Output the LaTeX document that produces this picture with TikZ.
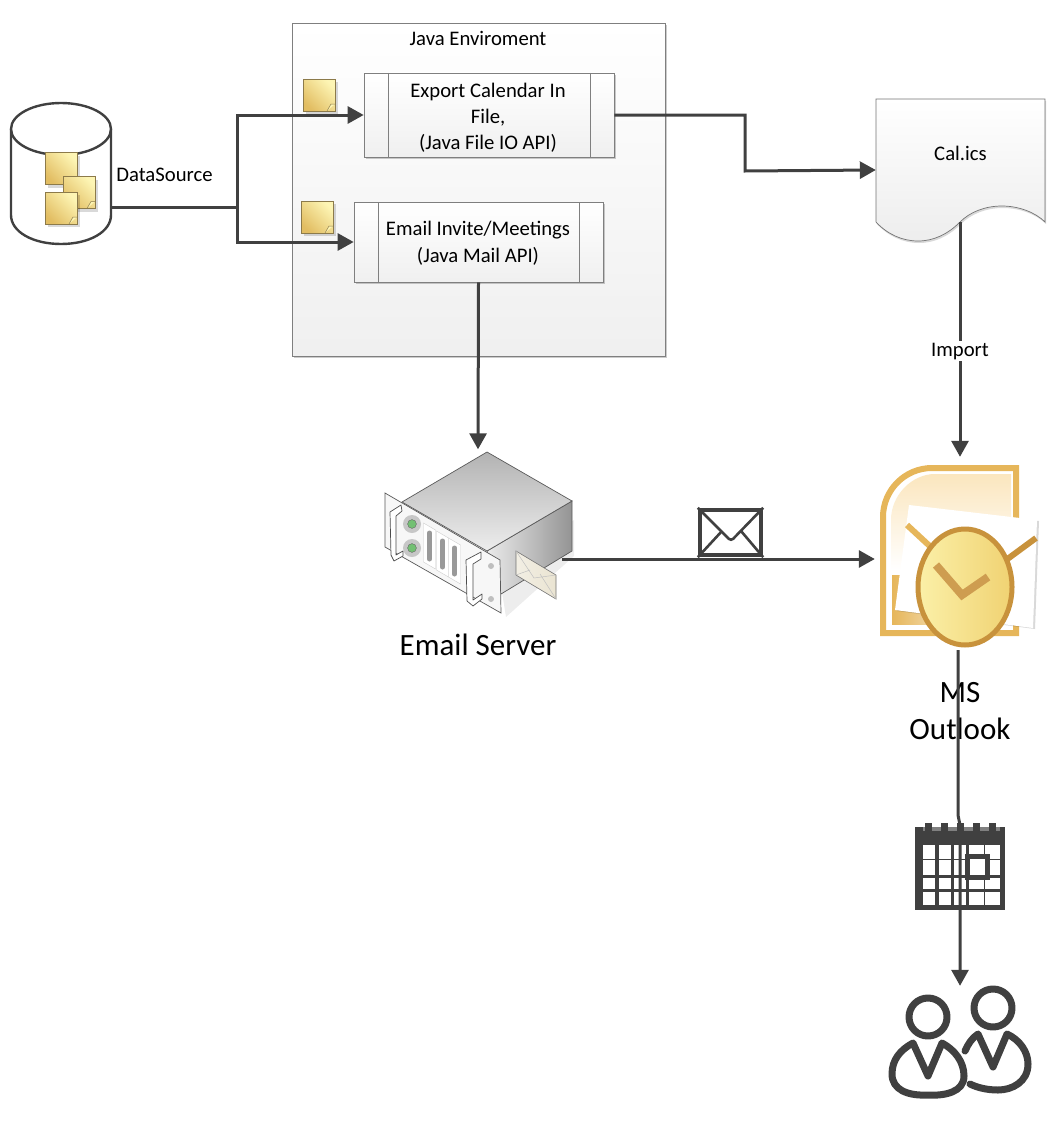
\documentclass[tikz,border=0pt]{standalone}
\usepackage{fontspec}
\setmainfont{Carlito}
\usetikzlibrary{arrows.meta,positioning,shadows,calc}

\definecolor{inkdark}{HTML}{404040}
\definecolor{paneledge}{HTML}{7F7F7F}
\definecolor{noteedge}{HTML}{8C7A4A}
\definecolor{noteone}{HTML}{FDF5B4}
\definecolor{notetwo}{HTML}{E2BD62}
\definecolor{orangeedge}{HTML}{E6B65A}
\definecolor{orangepale}{HTML}{FBE6BE}
\definecolor{clockedge}{HTML}{C8923C}
\definecolor{clockone}{HTML}{FBF0A8}
\definecolor{clocktwo}{HTML}{F0D272}
\definecolor{envbeige}{HTML}{EAE4D2}

\begin{document}
\begin{tikzpicture}[
    x = 1pt, y = -1pt, % picture is laid out in reference pixels
    > = {Triangle[length=16pt,width=17pt]}, % arrow head style
    flow/.style = {draw = inkdark, line width = 3pt},
    panel/.style = {draw = paneledge, line width = .7pt, top color = white, bottom color = black!6,
        drop shadow = {shadow xshift = 2pt, shadow yshift = -2pt, opacity = .2, fill = black}},
    sticky/.style = {draw = noteedge, line width = .6pt, minimum size = 32pt, inner sep = 0pt,
        left color = noteone, right color = notetwo, shading angle = -45,
        drop shadow = {shadow xshift = 3pt, shadow yshift = -3pt, opacity = .15, fill = black},
        path picture = {
            \draw[noteedge, fill = noteone, line width = .5pt]
                ($(path picture bounding box.south east)+(-8pt,0pt)$)
                -- ++(4pt,7pt) -- ++(4pt,0pt);
        }},
    label/.style = {font = \fontsize{20.7}{26}\selectfont, align = center, inner sep = 1pt},
    biglabel/.style = {font = \fontsize{31}{37}\selectfont, align = center, inner sep = 1pt},
    steel/.style = {draw = black!65, line width = .7pt},
    handle/.style = {draw = black!70, fill = white, line width = .7pt, line join = round},
    figure/.style = {draw = inkdark, line width = 7pt, line join = round, line cap = round}
    ]

    % java environment and its two tasks
    \node[panel, minimum width = 373pt, minimum height = 333pt] (javaenv) at (478.5,189.5) {};
    \node[label] (javatitle) at (478,38) {Java Enviroment};
    \node[panel, minimum width = 250pt, minimum height = 84pt] (export) at (489,115) {};
    \node[panel, minimum width = 249pt, minimum height = 80pt] (email) at (478.5,242) {};
    \draw[paneledge] (388,73) -- (388,157) (590,73) -- (590,157);
    \draw[paneledge] (378,202) -- (378,282) (579,202) -- (579,282);
    \node[label] (exporttext) at (488,118) {Export Calendar In\\File,\\(Java File IO API)};
    \node[label, font = \fontsize{20.7}{27}\selectfont] (emailtext) at (478,243) {Email Invite/Meetings\\(Java Mail API)};
    \node[sticky] (noteexport) at (319,95) {};
    \node[sticky] (noteemail) at (317,217) {};

    % data source
    \node[minimum width = 100pt, minimum height = 142pt, inner sep = 0pt] (database) at (61,174) {};
    \draw[inkdark, line width = 2.4pt, fill = white]
        (11,129) -- (11,215) .. controls (11,232) and (33,244) .. (61,244)
        .. controls (89,244) and (111,232) .. (111,215) -- (111,129);
    \draw[inkdark, line width = 2.4pt, fill = white] (61,129) ellipse (50pt and 26pt);
    \node[sticky] (notea) at (61,168.5) {};
    \node[sticky] (noteb) at (79,192.5) {};
    \node[sticky] (notec) at (61,208) {};
    \node[label] (dstext) at (164.5,174.5) {DataSource};
    \coordinate (dsout) at (112,207);
    \coordinate (dsjoin) at (237,207);

    % calendar file
    \node[minimum width = 169pt, minimum height = 142pt, inner sep = 0pt] (calfile) at (960.5,170) {};
    \path[draw = black!55, line width = .7pt, top color = white, bottom color = black!7,
        drop shadow = {shadow xshift = 1pt, shadow yshift = -2pt, opacity = .15, fill = black}]
        (876,99) -- (1045,99) -- (1045,222)
        .. controls (1035,212) and (1018,206) .. (1002,206)
        .. controls (985,206) and (970,212) .. (960,222)
        .. controls (948,234) and (934,241) .. (918,241)
        .. controls (902,241) and (887,234) .. (876,222) -- cycle;
    \node[label] (caltext) at (960.5,153) {Cal.ics};
    \coordinate (calout) at (960,222);

    % mail server
    \node[minimum width = 190pt, minimum height = 165pt, inner sep = 0pt] (server) at (478,532) {};
    \path[fill = black!7] (500,580) -- (506,617) -- (574,556) -- (574,520) -- cycle;
    \draw[steel, left color = black!8, right color = black!42]
        (487,551) -- (572,501) -- (572,551) -- (501,594) -- cycle;
    \draw[steel, top color = black!30, bottom color = black!7]
        (487,452) -- (572,501) -- (487,551) -- (402,502) -- cycle;
    \draw[steel, fill = black!3] (385,493) -- (500,560) -- (501,613) -- (385,547) -- cycle;
    \foreach \ledy in {524,548} {
        \fill[black!22] (412,\ledy) circle (9pt);
        \draw[black!60, fill = green!55!black!55] (412,\ledy) circle (4.4pt);
    }
    \foreach \slotx/\sloty in {429.5/546, 442.5/554, 454.5/561} {
        \draw[black!20, fill = white] (\slotx-6,\sloty-23) -- (\slotx+6,\sloty-16) -- (\slotx+6,\sloty+23) -- (\slotx-6,\sloty+16) -- cycle;
        \draw[black!40, line width = 5pt, line cap = round] (\slotx,\sloty-13) -- (\slotx,\sloty+13);
    }
    \draw[handle] (401,505) -- (390,512) -- (391,555) -- (394,561) -- (403,556) -- (403,551) -- (396,555) -- (396,516) -- (402,511) -- cycle;
    \draw[handle] (481,552) -- (466,560) -- (467,601) -- (473,606) -- (482,599) -- (482,594) -- (473,600) -- (473,564) -- (481,559) -- cycle;
    \fill[black!25] (491,566) circle (3pt) (491,599) circle (3pt);

    % envelope leaving the server
    \coordinate (serverout) at (562,559);
    \draw[black!55, line width = .6pt, left color = envbeige!60!white, right color = envbeige]
        (516,551) -- (556,575) -- (556,599) -- (516,575) -- cycle;
    \draw[black!25, line width = .5pt] (516,551) -- (534,578) -- (556,575) (516,575) -- (530,570) (556,599) -- (540,574);
    \node[biglabel] (servertext) at (478,645) {Email Server};

    % envelope on the mail link
    \node[draw = inkdark, line width = 4.4pt, minimum width = 61pt, minimum height = 45pt, inner sep = 0pt] (mailicon) at (730.5,532.5) {};
    \draw[inkdark, line width = 2.6pt, rounded corners = 3pt] (mailicon.north west) -- (731,541) -- (mailicon.north east);
    \draw[inkdark, line width = 2.6pt] (mailicon.south west) -- (722,531) (mailicon.south east) -- (741,531);

    % outlook
    \node[minimum width = 170pt, minimum height = 193pt, inner sep = 0pt] (outlook) at (960,553.5) {};
    \path[draw = orangeedge, line width = 6pt, fill = white]
        (883,633) -- (883,517) .. controls (883,490) and (905,468) .. (932,468) -- (1016,468) -- (1016,633) -- cycle;
    \path[top color = orangepale, bottom color = white]
        (891,570) -- (891,520) .. controls (891,495) and (912,474) .. (935,474) -- (1011,474) -- (1011,570) -- cycle;
    \fill[left color = orangeedge, right color = orangeedge!60!white] (892,575) rectangle (930,624);
    \fill[white, drop shadow = {shadow xshift = 2pt, shadow yshift = -1pt, opacity = .15, fill = black}]
        (909,505) -- (1037,520) -- (1033,628) -- (895,610) -- cycle;
    \draw[orangeedge, line width = 6pt] (907,525) -- (934,550);
    \draw[clockedge, line width = 6pt] (1036,538) -- (1002,563);
    \draw[clockedge, line width = 5pt, left color = clockone, right color = clocktwo]
        (965,587) ellipse (47pt and 58pt);
    \draw[clockedge!90!white, line width = 8pt] (936,565) -- (962,595) -- (988,577);
    \node[biglabel] (outlooktext) at (960,711) {MS\\Outlook};
    \coordinate (outlookbend) at (958,815);

    % calendar icon
    \node[minimum width = 90pt, minimum height = 83pt, inner sep = 0pt, fill = inkdark] (calicon) at (960,868.5) {};
    \fill[black!50] (923,827) rectangle (1000,831);
    \foreach \tabx in {928.5,944.5,960.5,976.5,992.5} {
        \fill[inkdark] (\tabx-3.5,823) rectangle (\tabx+3.5,838);
    }
    \foreach \cellx/\cellw in {923/12,938.5/12.5,954/12,968.5/15,985/15} {
        \foreach \celly/\cellh in {844.5/14,860/15,877.5/11.5,891.5/13.5} {
            \fill[white] (\cellx,\celly) rectangle ++(\cellw,\cellh);
        }
    }
    \draw[inkdark, line width = 5pt, fill = white] (967,856) rectangle (987,877);

    % people
    \node[minimum width = 142pt, minimum height = 118pt, inner sep = 0pt] (people) at (960,1045) {};
    \draw[figure] (928,1017) circle (19pt) (993,1008) circle (19pt);
    \draw[figure] (913,1043) -- (928,1076) -- (942,1043)
        .. controls (955,1050) and (964,1062) .. (964,1076)
        .. controls (964,1092) and (945,1096) .. (928,1095)
        .. controls (908,1096) and (892,1090) .. (892,1074)
        .. controls (892,1060) and (900,1050) .. (913,1043) -- cycle;
    \draw[figure] (965,1051) .. controls (968,1044) and (972,1038) .. (978,1034)
        -- (993,1067) -- (1007,1034)
        .. controls (1020,1040) and (1028,1052) .. (1028,1064)
        .. controls (1028,1082) and (1012,1090) .. (998,1090)
        .. controls (988,1090) and (978,1088) .. (970,1084);

    % connectors
    \draw[flow] (dsout) -- (dsjoin);
    \draw[flow, ->] (dsjoin) |- (export.west);
    \draw[flow, ->] (dsjoin) |- (email.west);
    \draw[flow, ->] (export.east) -| (745,171) -- (calfile.west);
    \draw[flow, ->] (email.south) -- (server.north);
    \draw[flow, ->] (serverout) -- (outlook.west |- serverout);
    \draw[flow, ->] (calout) -- node[pos = .55, fill = white, label, inner sep = 2pt] (importtext) {Import} (outlook.north -| calout);
    \draw[flow, ->] (outlook.south -| outlookbend) -- (outlookbend) -- (960,825) -- (people.north);

    \useasboundingbox (0,0) rectangle (1062,1124);
\end{tikzpicture}
\end{document}
